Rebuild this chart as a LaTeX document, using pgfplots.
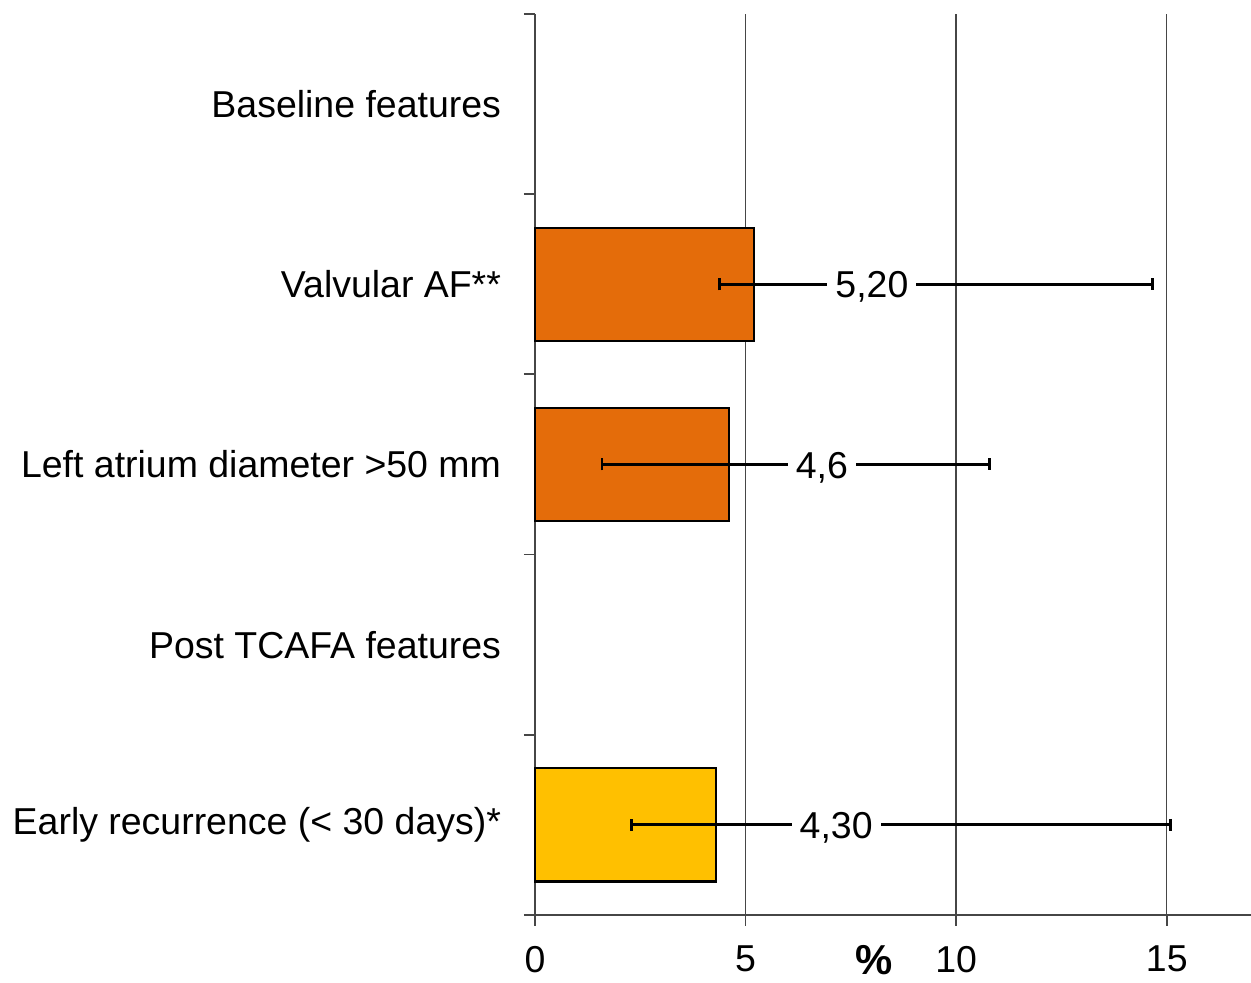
\documentclass[border=0pt]{standalone}
\usepackage{fontspec}
\setmainfont{Liberation Sans}
\usepackage{pgfplots}
\pgfplotsset{compat=1.18}
\usetikzlibrary{calc}
\definecolor{barorange}{RGB}{228,108,10}
\definecolor{baryellow}{RGB}{255,192,0}
\definecolor{axisgray}{RGB}{70,70,70}
\newcommand{\lblfont}{\fontsize{18.8}{22}\selectfont}

\begin{document}
\begin{tikzpicture}
\begin{axis}[
    scale only axis,
    width=358bp, height=450.5bp,
    xmin=0, xmax=17, ymin=-0.5, ymax=4.5,
    axis lines*=left,
    axis line style={axisgray, line width=0.9bp},
    xtick={0,5,10,15},
    xmajorgrids,
    grid style={axisgray, line width=0.7bp},
    ytick={-0.5,0.5,1.5,2.5,3.5,4.5},
    yticklabels={},
    extra y ticks={0,1,2,3,4},
    extra y tick labels={Early recurrence (< 30 days)*, Post TCAFA features, Left atrium diameter >50 mm, Valvular AF**, Baseline features},
    extra y tick style={grid=none, major tick length=0pt},
    tick align=outside,
    major tick length=5.5bp,
    tick style={axisgray, line width=0.9bp},
    ticklabel style={font=\lblfont},
    /pgf/number format/assume math mode=true,
    xticklabel style={yshift=-6.5bp},
    yticklabel style={xshift=-13.5bp},
    clip=false,
]
% Valvular AF and left atrium diameter
\addplot[xbar, bar shift=0pt, bar width=0.628, fill=barorange, draw=black, line width=1.1bp,
    error bars/.cd, x dir=both, x explicit,
    error bar style={black, line width=1.4bp},
    error mark options={rotate=90, black, line width=1.4bp, mark size=3bp}]
coordinates {
    (5.20,3) += (9.47,0) -= (0.82,0)
    (4.60,2) += (6.20,0) -= (3.01,0)
};
% early recurrence
\addplot[xbar, bar shift=0pt, bar width=0.628, fill=baryellow, draw=black, line width=1.1bp,
    error bars/.cd, x dir=both, x explicit,
    error bar style={black, line width=1.4bp},
    error mark options={rotate=90, black, line width=1.4bp, mark size=3bp}]
coordinates {
    (4.30,0) += (10.78,0) -= (2.00,0)
};
\node[fill=white, inner xsep=4bp, inner ysep=1bp, font=\lblfont, yshift=-1.5bp] at (axis cs:8.0,3) {5,20};
\node[fill=white, inner xsep=4bp, inner ysep=1bp, font=\lblfont, yshift=-1.5bp] at (axis cs:6.81,2) {4,6};
\node[fill=white, inner xsep=4bp, inner ysep=1bp, font=\lblfont, yshift=-1.5bp] at (axis cs:7.15,0) {4,30};
\node[font=\bfseries\fontsize{21}{24}\selectfont, yshift=-22.5bp] at (axis cs:8.05,-0.5) {\%};
\coordinate (O) at (axis cs:0,-0.5);
\coordinate (TR) at (axis cs:17,4.5);
\end{axis}
\pgfresetboundingbox
\path[use as bounding box] ($(O)+(-267.5bp,-34bp)$) rectangle ($(TR)+(0,7bp)$);
\end{tikzpicture}
\end{document}
